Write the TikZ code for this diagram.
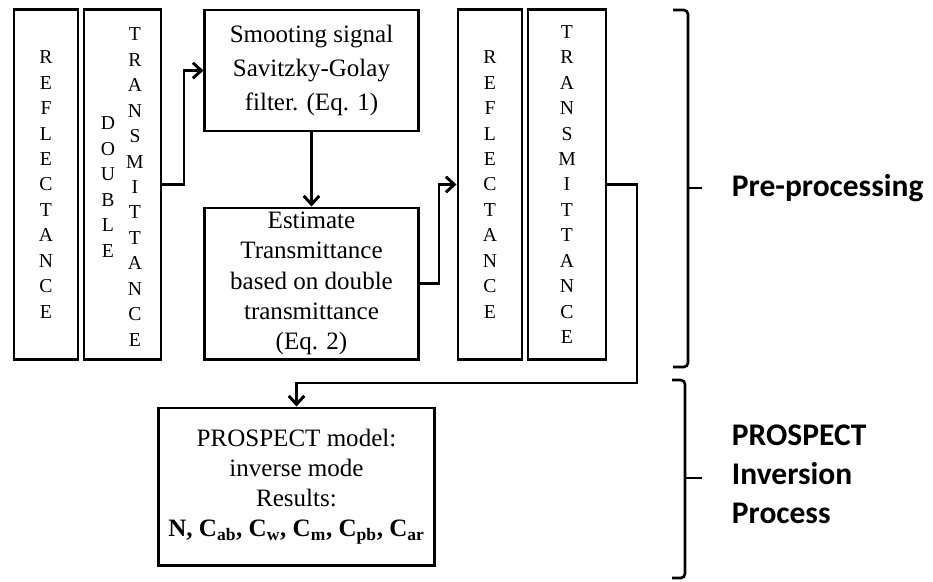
\documentclass[tikz,border=0pt]{standalone}
\usepackage{fontspec}
\setmainfont{Liberation Serif}
\newfontfamily\labelfont{Carlito}
\usetikzlibrary{arrows.meta}

\tikzset{
  box/.style={draw, line width=2.1pt, align=center, inner sep=0pt,
    font=\fontsize{17.8}{21.5}\selectfont},
  vbox/.style={draw, line width=2.1pt, align=center, inner sep=0pt,
    minimum height=8.725cm, font=\fontsize{14}{18.1}\selectfont},
  letters/.style={align=center, inner sep=0pt, font=\fontsize{14}{18.1}\selectfont},
  arr/.style={line width=2.1pt, -{Straight Barb[length=6pt,width=11pt]}},
  brace/.style={line width=1.9pt, rounded corners=3pt},
  lbl/.style={anchor=west, align=left, font=\labelfont\bfseries\fontsize{22.4}{27.7}\selectfont}
}

\begin{document}
\begin{tikzpicture}[x=0.025cm, y=-0.025cm]
	\useasboundingbox (0,0) rectangle (933,581);
	% Colonnes d'entree
	\node[vbox, minimum width=1.6cm] (refl) at (46,184.5) {R\\E\\F\\L\\E\\C\\T\\A\\N\\C\\E};
	\node[vbox, minimum width=1.925cm] (dbl) at (122.5,184.5) {};
	\node[letters] (dbla) at (108,187) {D\\O\\U\\B\\L\\E};
	\node[letters] (dblb) at (135,187) {T\\R\\A\\N\\S\\M\\I\\T\\T\\A\\N\\C\\E};
	\node[box, minimum width=5.325cm, minimum height=3.025cm, font=\fontsize{17.8}{24}\selectfont] (smooth) at (311.5,70.5) {Smooting signal\\Savitzky-Golay\\filter. (Eq. 1)};
	\node[box, minimum width=5.325cm, minimum height=3.775cm] (est) at (311.5,283.5) {Estimate\\Transmittance\\based on double\\transmittance\\(Eq. 2)};
	\node[vbox, minimum width=1.6cm] (refl2) at (490,184.5) {R\\E\\F\\L\\E\\C\\T\\A\\N\\C\\E};
	\node[vbox, minimum width=1.95cm] (trans2) at (567,184.5) {T\\R\\A\\N\\S\\M\\I\\T\\T\\A\\N\\C\\E};
	\node[box, minimum width=6.875cm, minimum height=3.925cm] (prosp) at (296.5,486.5) {PROSPECT model:\\inverse mode\\Results:\\\textbf{N, C\textsubscript{ab}, C\textsubscript{w}, C\textsubscript{m}, C\textsubscript{pb}, C\textsubscript{ar}}};
	% Liaisons
	\draw[arr] (dbl.east) -- ++(21.5,0) |- (smooth.west);
	\draw[arr] (smooth.south) -- (est.north);
	\draw[arr] (est.east) -- ++(19.5,0) |- (refl2.west);
	\coordinate (turn) at (637,383);
	\draw[arr] (trans2.east) -| (turn) -| (prosp.north);
	% Accolades
	\draw[brace] (673,10) -| (688,188) |- (673,367);
	\draw[line width=1.9pt] (688,188) -- (702,188);
	\draw[brace] (672,380) -| (685,478) |- (672,578);
	\draw[line width=1.9pt] (685,478) -- (702,478);
	\node[lbl] (pre) at (727,188) {Pre-processing};
	\node[lbl] (inv) at (727,474) {PROSPECT\\Inversion\\Process};
\end{tikzpicture}
\end{document}
